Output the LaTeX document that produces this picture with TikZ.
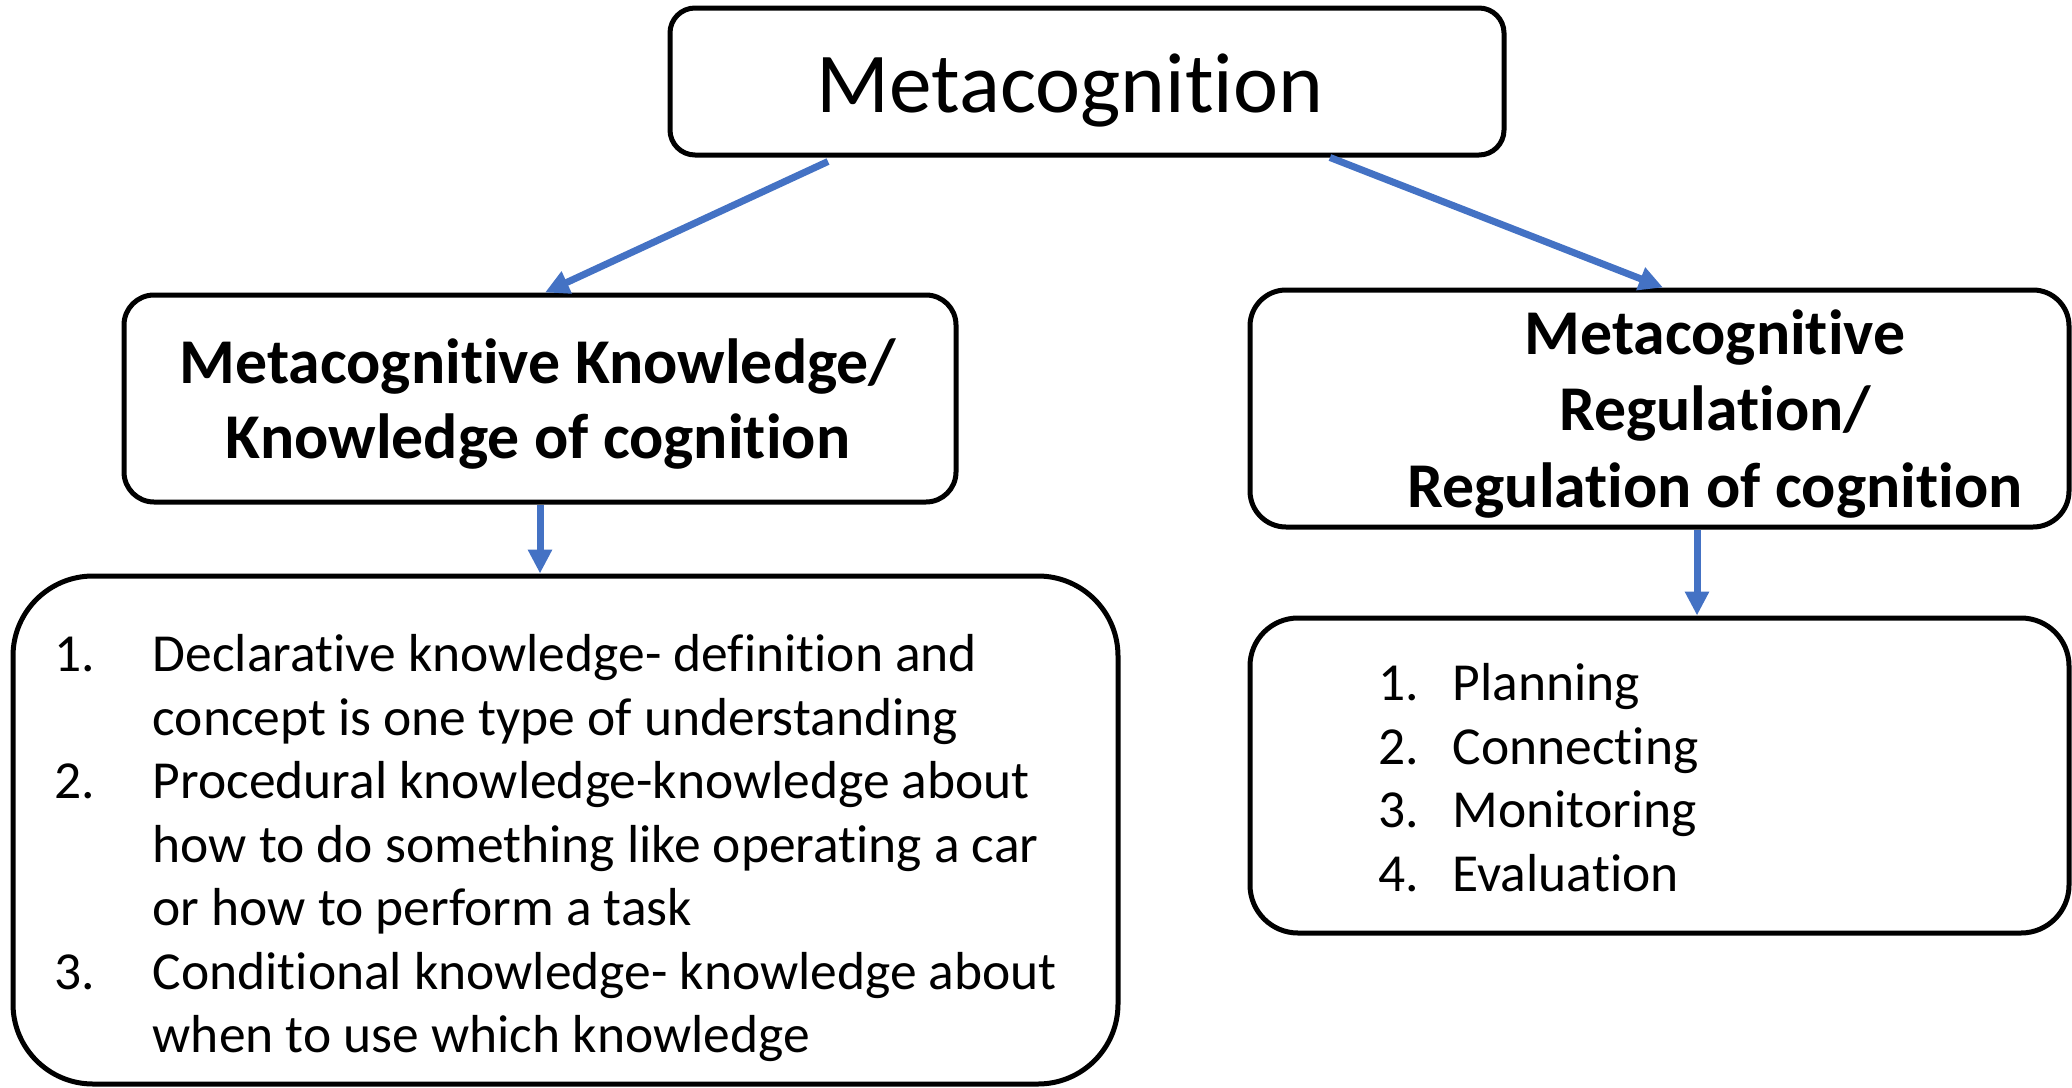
\documentclass[tikz,border=0pt]{standalone}
\usepackage{fontspec}
\setmainfont[Ligatures=NoCommon]{Carlito}
\usetikzlibrary{arrows.meta}
\definecolor{linkblue}{HTML}{4472C4}
\begin{document}
\begin{tikzpicture}[x=1pt,y=-1pt,
  box/.style={draw=black, line width=5pt, fill=white, inner sep=0pt},
  link/.style={draw=linkblue, line width=7pt, -{Triangle[length=24pt,width=23pt]}},
  titletext/.style={inner sep=0pt, anchor=base, font=\fontsize{85.3}{100}\selectfont},
  headtext/.style={inner sep=0pt, anchor=base, font=\fontsize{63.8}{76}\selectfont\bfseries},
  itemtext/.style={inner sep=0pt, anchor=base west, font=\fontsize{53.5}{64}\selectfont},
]
\useasboundingbox (0,0) rectangle (2072,1087);

% boxes
\node[box, rounded corners=25pt, minimum width=834pt, minimum height=147pt] (top) at (1087,81.5) {};
\node[box, rounded corners=30pt, minimum width=832pt, minimum height=207pt] (lmid) at (540,398.5) {};
\node[box, rounded corners=36pt, minimum width=819pt, minimum height=237pt] (rmid) at (1659.5,408.5) {};
\node[box, rounded corners=80pt, minimum width=1105pt, minimum height=508pt] (lbot) at (565.5,830) {};
\node[box, rounded corners=48pt, minimum width=819pt, minimum height=315pt] (rbot) at (1659.5,775.5) {};

% connectors
\draw[link] ([shift={(-259,4)}]top.south) -- ([shift={(5,0)}]lmid.north);
\draw[link] ([shift={(243,0)}]top.south) -- ([shift={(3.5,0)}]rmid.north);
\draw[link] (lmid.south) -- (lmid.south |- lbot.north);
\draw[link] ([shift={(37.5,0)}]rmid.south) coordinate (rs) -- (rs |- rbot.north);

% headings
\node[titletext] (ttl) at (1070,112) {Metacognition};
\node[headtext] (lh1) at (538,383) {Metacognitive Knowledge/};
\node[headtext] (lh2) at (538,458) {Knowledge of cognition};
\node[headtext] (rh1) at (1715,354) {Metacognitive};
\node[headtext] (rh2) at (1715,430) {Regulation/};
\node[headtext] (rh3) at (1715,507) {Regulation of cognition};

% knowledge list
\node[itemtext] (ln1) at (54,671.5) {1.};
\node[itemtext] (lt1a) at (152.5,671.5) {Declarative knowledge- definition and};
\node[itemtext] (lt1b) at (152.5,735) {concept is one type of understanding};
\node[itemtext] (ln2) at (54,798.5) {2.};
\node[itemtext] (lt2a) at (152.5,798.5) {Procedural knowledge-knowledge about};
\node[itemtext] (lt2b) at (152.5,862) {how to do something like operating a car};
\node[itemtext] (lt2c) at (152.5,925.5) {or how to perform a task};
\node[itemtext] (ln3) at (54,989) {3.};
\node[itemtext] (lt3a) at (152.5,989) {Conditional knowledge- knowledge about};
\node[itemtext] (lt3b) at (152.5,1052.5) {when to use which knowledge};

% regulation list
\node[itemtext] (rn1) at (1378,700.5) {1.};
\node[itemtext] (rt1) at (1452.5,700.5) {Planning};
\node[itemtext] (rn2) at (1378,764) {2.};
\node[itemtext] (rt2) at (1452.5,764) {Connecting};
\node[itemtext] (rn3) at (1378,827.5) {3.};
\node[itemtext] (rt3) at (1452.5,827.5) {Monitoring};
\node[itemtext] (rn4) at (1378,891) {4.};
\node[itemtext] (rt4) at (1452.5,891) {Evaluation};
\end{tikzpicture}
\end{document}
